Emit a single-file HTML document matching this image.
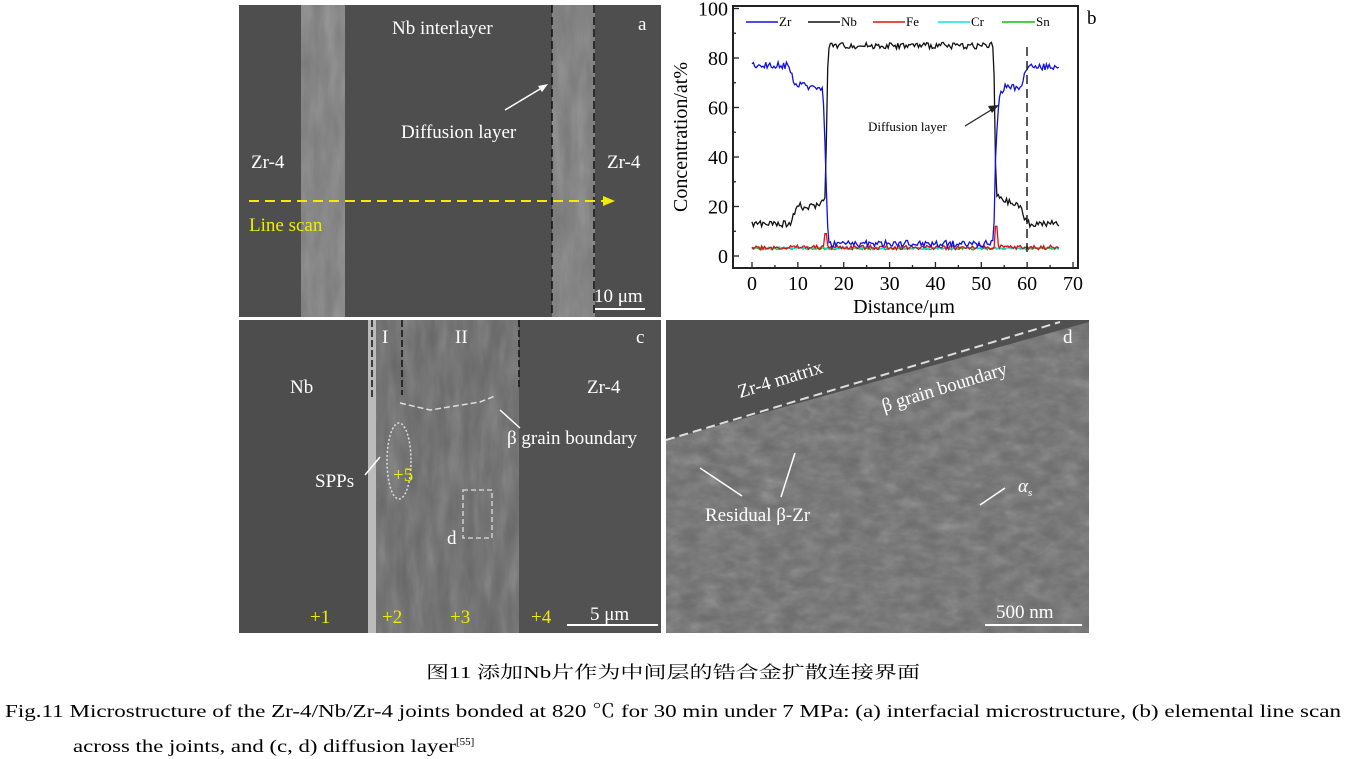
<!DOCTYPE html>
<html><head><meta charset="utf-8"><style>
html,body{margin:0;padding:0;background:#fff;width:1346px;height:759px;overflow:hidden}
svg{display:block}
text{font-family:"Liberation Serif","Noto Serif CJK SC",serif}
</style></head><body>
<svg id="s" width="1346" height="759" viewBox="0 0 1346 759" xmlns="http://www.w3.org/2000/svg">
<defs>
<filter id="tex" x="0" y="0" width="100%" height="100%"><feTurbulence type="fractalNoise" baseFrequency="0.08 0.02" numOctaves="3" seed="3"/><feColorMatrix type="saturate" values="0"/><feComponentTransfer><feFuncA type="linear" slope="0.35"/></feComponentTransfer><feComposite in2="SourceGraphic" operator="in"/></filter>
<filter id="tex2" x="0" y="0" width="100%" height="100%"><feTurbulence type="fractalNoise" baseFrequency="0.05 0.09" numOctaves="3" seed="7"/><feColorMatrix type="saturate" values="0"/><feComponentTransfer><feFuncA type="linear" slope="0.4"/></feComponentTransfer><feComposite in2="SourceGraphic" operator="in"/></filter>
</defs>
<!-- panel a -->
<rect x="239" y="5" width="422" height="312" fill="#4e4e4e"/>
<rect x="301" y="5" width="44" height="312" fill="#7c7c7c"/>
<rect x="301" y="5" width="44" height="312" fill="#888" filter="url(#tex)"/>
<rect x="552" y="5" width="43" height="312" fill="#7a7a7a"/>
<rect x="552" y="5" width="43" height="312" fill="#888" filter="url(#tex)"/>
<line x1="552" y1="5" x2="552" y2="317" stroke="#111" stroke-width="1.5" stroke-dasharray="8,4"/>
<line x1="594" y1="5" x2="594" y2="317" stroke="#111" stroke-width="1.5" stroke-dasharray="8,4"/>
<g fill="#fff" font-size="19">
<text x="392" y="34">Nb interlayer</text><text x="638" y="30">a</text>
<text x="401" y="138">Diffusion layer</text>
<text x="251" y="168">Zr-4</text><text x="607" y="168">Zr-4</text>
<text x="594" y="302">10 μm</text></g>
<line x1="505" y1="110" x2="545" y2="86" stroke="#fff" stroke-width="1.5"/>
<polygon points="548,84 538,86 542,92" fill="#fff"/>
<line x1="595" y1="309" x2="645" y2="309" stroke="#fff" stroke-width="2"/>
<line x1="249" y1="201" x2="605" y2="201" stroke="#ee0" stroke-width="2" stroke-dasharray="10,6"/>
<polygon points="615,201 603,196 603,206" fill="#ee0"/>
<text x="249" y="231" fill="#ee0" font-size="19">Line scan</text>
<!-- panel c -->
<rect x="239" y="320" width="422" height="313" fill="#4d4d4d"/>
<rect x="372" y="320" width="148" height="313" fill="#666"/>
<rect x="372" y="320" width="148" height="313" fill="#999" filter="url(#tex)"/>
<rect x="519" y="320" width="142" height="313" fill="#525252"/>
<rect x="368" y="320" width="8" height="313" fill="#bbb"/>
<g stroke="#111" stroke-width="1.5" stroke-dasharray="7,3"><line x1="372" y1="320" x2="372" y2="400"/><line x1="402" y1="320" x2="402" y2="395"/><line x1="519" y1="320" x2="519" y2="390"/></g>
<path d="M400,403 L430,410 L480,402 L495,396" stroke="#ddd" stroke-width="1.5" fill="none" stroke-dasharray="6,3"/>
<ellipse cx="399" cy="461" rx="12" ry="38" fill="none" stroke="#ddd" stroke-width="1.5" stroke-dasharray="2,2"/>
<rect x="463" y="490" width="29" height="48" fill="none" stroke="#ddd" stroke-width="1.3" stroke-dasharray="5,3"/>
<g fill="#fff" font-size="19">
<text x="382" y="343">I</text><text x="455" y="343">II</text><text x="636" y="343">c</text>
<text x="290" y="393">Nb</text><text x="587" y="393">Zr-4</text>
<text x="507" y="444">β grain boundary</text>
<text x="315" y="487">SPPs</text><text x="447" y="544">d</text>
<text x="590" y="620">5 μm</text></g>
<line x1="567" y1="625" x2="658" y2="625" stroke="#fff" stroke-width="2"/>
<line x1="365" y1="475" x2="380" y2="457" stroke="#fff" stroke-width="1.5"/>
<line x1="520" y1="428" x2="500" y2="410" stroke="#fff" stroke-width="1.5"/>
<g fill="#ee0" font-size="19"><text x="310" y="623">+1</text><text x="382" y="623">+2</text><text x="450" y="623">+3</text><text x="531" y="623">+4</text><text x="393" y="481">+5</text></g>
<!-- panel d -->
<rect x="666" y="320" width="423" height="313" fill="#6a6a6a"/>
<rect x="666" y="320" width="423" height="313" fill="#aaa" filter="url(#tex2)"/>
<polygon points="666,320 1089,320 1089,322 666,440" fill="#505050"/>
<line x1="666" y1="440" x2="1060" y2="322" stroke="#ddd" stroke-width="2" stroke-dasharray="9,5"/>
<g fill="#fff" font-size="19">
<text x="1063" y="343">d</text>
<text transform="translate(740,398) rotate(-17)">Zr-4 matrix</text>
<text transform="translate(884,412) rotate(-17)">β grain boundary</text>
<text x="705" y="521">Residual β-Zr</text>
<text x="1018" y="492" font-style="italic">α<tspan font-size="11" dy="4">s</tspan></text>
<text x="996" y="618">500 nm</text></g>
<line x1="985" y1="625" x2="1082" y2="625" stroke="#fff" stroke-width="2"/>
<line x1="742" y1="496" x2="700" y2="468" stroke="#fff" stroke-width="1.5"/>
<line x1="781" y1="497" x2="795" y2="453" stroke="#fff" stroke-width="1.5"/>
<line x1="1005" y1="488" x2="980" y2="505" stroke="#fff" stroke-width="1.5"/>
<!-- panel b -->
<rect x="733" y="6" width="345" height="262" fill="#fff" stroke="#222" stroke-width="2"/>
<g id="ticks" stroke="#222" stroke-width="1.3"></g>
<g id="series" fill="none" stroke-width="1.3"></g>
<line x1="1027" y1="47" x2="1027" y2="255" stroke="#222" stroke-width="1.5" stroke-dasharray="9,5"/>
<line x1="965" y1="126" x2="996" y2="107" stroke="#222" stroke-width="1.3"/>
<polygon points="999,105 988,106 992,113" fill="#222"/>
<text x="868" y="131" font-size="13">Diffusion layer</text>
<g font-size="13">
<line x1="746" y1="22" x2="778" y2="22" stroke="#1010e0" stroke-width="1.5"/><text x="779" y="26">Zr</text>
<line x1="808" y1="22" x2="840" y2="22" stroke="#111" stroke-width="1.5"/><text x="841" y="26">Nb</text>
<line x1="873" y1="22" x2="905" y2="22" stroke="#e01010" stroke-width="1.5"/><text x="906" y="26">Fe</text>
<line x1="938" y1="22" x2="970" y2="22" stroke="#10e0e0" stroke-width="1.5"/><text x="971" y="26">Cr</text>
<line x1="1002" y1="22" x2="1035" y2="22" stroke="#10c010" stroke-width="1.5"/><text x="1036" y="26">Sn</text>
</g>
<text x="1087" y="24" font-size="19">b</text>
<g id="lab" font-size="20"></g>
<text x="904" y="313" font-size="20" text-anchor="middle">Distance/μm</text>
<text transform="translate(687,137) rotate(-90)" font-size="20" text-anchor="middle">Concentration/at%</text>
<!-- caption -->
<text x="426" y="678" font-size="17" textLength="494" lengthAdjust="spacingAndGlyphs">图11  添加Nb片作为中间层的锆合金扩散连接界面</text>
<text x="5" y="717" font-size="18" textLength="1336" lengthAdjust="spacingAndGlyphs">Fig.11  Microstructure of the Zr-4/Nb/Zr-4 joints bonded at 820 ℃ for 30 min under 7 MPa: (a) interfacial microstructure, (b) elemental line scan</text>
<text x="73" y="752" font-size="18"><tspan textLength="383" lengthAdjust="spacingAndGlyphs">across the joints, and (c, d) diffusion layer</tspan><tspan font-size="11" dy="-7">[55]</tspan></text>
</svg>
<script>
const NS="http://www.w3.org/2000/svg";
const X=v=>752+v*4.586, Y=c=>256-c*2.475;
let seed=5;function r(){seed=(seed*9301+49297)%233280;return seed/233280-0.5;}
function mk(tag,a,p){const e=document.createElementNS(NS,tag);for(const k in a)e.setAttribute(k,a[k]);document.getElementById(p).appendChild(e);return e;}
for(let c=0;c<=100;c+=20){mk('line',{x1:733,y1:Y(c),x2:739,y2:Y(c)},'ticks');const t=mk('text',{x:728,y:Y(c)+7,'text-anchor':'end'},'lab');t.textContent=c;}
for(let c=10;c<100;c+=20)mk('line',{x1:733,y1:Y(c),x2:736,y2:Y(c)},'ticks');
for(let v=0;v<=70;v+=10){mk('line',{x1:X(v),y1:268,x2:X(v),y2:262},'ticks');const t=mk('text',{x:X(v),y:290,'text-anchor':'middle'},'lab');t.textContent=v;}
for(let v=5;v<70;v+=10)mk('line',{x1:X(v),y1:268,x2:X(v),y2:265},'ticks');
function interp(pts,v){for(let i=0;i<pts.length-1;i++){if(v<=pts[i+1][0]){const t=(v-pts[i][0])/(pts[i+1][0]-pts[i][0]);return pts[i][1]+t*(pts[i+1][1]-pts[i][1]);}}return pts[pts.length-1][1];}
function series(pts,noise,col,spikes){let d="";for(let v=0;v<=67;v+=0.3){let c=interp(pts,v)+r()*noise*2;if(spikes)for(const s of spikes)if(Math.abs(v-s[0])<0.3)c=s[1];d+=(d?"L":"M")+X(v).toFixed(1)+","+Y(c).toFixed(1);}mk('path',{d:d,stroke:col},'series');}
series([[0,3],[67,3]],0.5,"#10c010");
series([[0,3.2],[67,3.2]],0.5,"#10e0e0");
series([[0,3.5],[67,3.5]],0.9,"#e01010",[[16,9],[53.1,12]]);
series([[0,13],[8.5,13],[10,22],[11,19],[15,21],[16,25],[16.6,85],[52.7,85],[53.2,25],[54,23],[58.5,20],[59.5,15],[60.5,13],[67,13]],1.3,"#111");
series([[0,77],[8,77],[9.5,69],[15.5,68],[16,40],[16.6,5],[52.7,5],[53.1,40],[53.8,64],[55,68],[58.8,68],[59.5,76],[67,77]],1.4,"#1010e0");
</script>
</body></html>
